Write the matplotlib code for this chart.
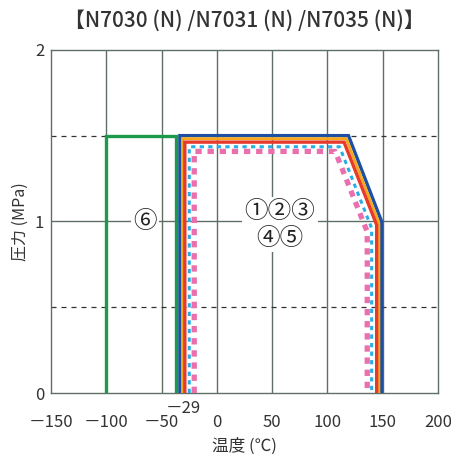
import matplotlib
matplotlib.use('Agg')
import matplotlib.pyplot as plt

plt.rcParams['font.family'] = ['Noto Sans CJK JP', 'DejaVu Sans']

# boundary of each series (temperature C, pressure MPa)
green_x = [-100, -100, -37, -37]
green_y = [0, 1.5, 1.5, 0]

blue_x = [-33.5, -33.5, 119, 149, 149]
blue_y = [0, 1.5, 1.5, 1.0, 0]

orange_x = [-31, -31, 117, 146.5, 146.5]
orange_y = [0, 1.482, 1.482, 0.99, 0]

red_x = [-29, -29, 115, 144.5, 144.5]
red_y = [0, 1.462, 1.462, 0.98, 0]

cyan_x = [-25, -25, 111, 140, 140]
cyan_y = [0, 1.435, 1.435, 0.96, 0]

pink_x = [-20.5, -20.5, 107, 136, 136]
pink_y = [0, 1.408, 1.408, 0.94, 0]

xticks = [-150, -100, -50, 0, 50, 100, 150, 200]
xtick_labels = ['－150', '－100', '－50', '0', '50', '100', '150', '200']
yticks = [0, 1, 2]

fig = plt.figure(figsize=(4.52, 4.57), dpi=100)
ax = fig.add_axes([0.113, 0.140, 0.856, 0.751])

grid_c = '#5f6f66'
for xv in xticks[1:-1]:
    ax.axvline(xv, color=grid_c, lw=1.0, zorder=1)
ax.axhline(1.0, color=grid_c, lw=1.0, zorder=1)
for yv in [0.5, 1.5]:
    ax.axhline(yv, color='#333333', lw=0.9, ls=(0, (4, 4)), zorder=1)

ax.plot(green_x, green_y, color='#1c9a4a', lw=2.4, zorder=3, solid_joinstyle='miter')
ax.plot(blue_x, blue_y, color='#1d4fa3', lw=2.4, zorder=3, solid_joinstyle='miter')
ax.plot(orange_x, orange_y, color='#f6a81c', lw=2.1, zorder=3, solid_joinstyle='miter')
ax.plot(red_x, red_y, color='#e83a2c', lw=2.4, zorder=3, solid_joinstyle='miter')
ax.plot(cyan_x, cyan_y, color='#29aee3', lw=2.2, ls=(0, (1.4, 1.4)), zorder=3)
ax.plot(pink_x, pink_y, color='#ea6fac', lw=3.8, ls=(0, (1.2, 1.1)), zorder=3)

box = dict(boxstyle='square,pad=0.1', fc='white', ec='none')
ax.text(-65, 1.0, '⑥', fontsize=17, ha='center', va='center', color='#222222',
        bbox=box, zorder=4)
ax.text(57, 1.06, '①②③', fontsize=17, ha='center', va='center', color='#222222',
        bbox=box, zorder=4)
ax.text(57, 0.90, '④⑤', fontsize=17, ha='center', va='center', color='#222222',
        bbox=box, zorder=4)

ax.set_xlim(-150, 200)
ax.set_ylim(0, 2)
ax.set_xticks(xticks)
ax.set_xticklabels(xtick_labels)
ax.set_yticks(yticks)
ax.tick_params(axis='x', length=0, labelsize=12, colors='#333333', pad=15)
ax.tick_params(axis='y', length=0, labelsize=12, colors='#333333', pad=5)
for s in ax.spines.values():
    s.set_color(grid_c)
    s.set_linewidth(1.0)

ax.text(-30, -0.088, '－29', fontsize=12, ha='center', va='center', color='#333333')
ax.set_xlabel('温度 (℃)', fontsize=12, color='#333333', labelpad=5)
ax.set_ylabel('圧力 (MPa)', fontsize=11.5, color='#333333', labelpad=4)
fig.text(0.54, 0.955, '【N7030 (N) /N7031 (N) /N7035 (N)】', fontsize=15,
         fontweight='medium', ha='center', va='center', color='#333333')

fig.savefig('out.png', dpi=100)
